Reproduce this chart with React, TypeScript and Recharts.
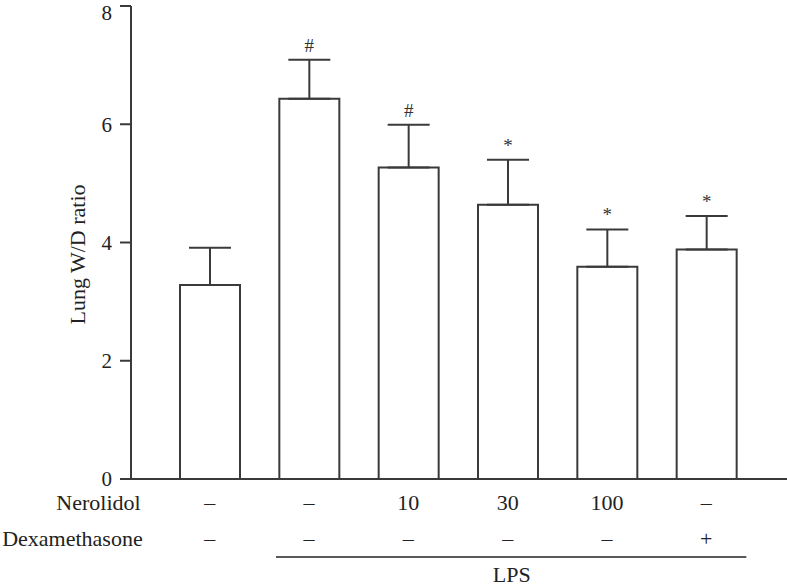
import React from 'react';
import {
  ComposedChart, Bar, XAxis, YAxis, ErrorBar, LabelList,
} from 'recharts';

const groups = ['Control', 'LPS', 'LPS+N10', 'LPS+N30', 'LPS+N100', 'LPS+Dex'];
const means = [3.28, 6.43, 5.27, 4.64, 3.59, 3.88];
const sds = [0.63, 0.66, 0.72, 0.76, 0.63, 0.57];
const marks = ['', '#', '#', '*', '*', '*'];
const nerolidol = ['–', '–', '10', '30', '100', '–'];
const dexamethasone = ['–', '–', '–', '–', '–', '+'];
const yTicks = [0, 2, 4, 6, 8];

const data = groups.map((g, i) => ({
  group: g,
  mean: means[i],
  err: [0, sds[i]],
  sd: sds[i],
  mark: marks[i],
}));

const INK = '#3a3a3a';
const TEXT = '#222';
const FONT = 'Liberation Serif, Times New Roman, serif';
const txt = { fontFamily: FONT, fontSize: 22 };

const W = 787;
const H = 586;
const Y_AXIS_W = 131;
const PAD_L = 29;
const PAD_R = 31;
const BAND = (W - Y_AXIS_W - PAD_L - PAD_R) / groups.length;

const RowTick = ({ x, y, payload }: any) => {
  const i = payload.index;
  return (
    <g>
      {i === 0 && (
        <>
          <text x={x - 69} y={y + 31} textAnchor="end" fill={TEXT} style={txt}>Nerolidol</text>
          <text x={x - 67} y={y + 67} textAnchor="end" fill={TEXT} style={txt}>Dexamethasone</text>
        </>
      )}
      <text x={x} y={y + 31} textAnchor="middle" fill={TEXT} style={txt}>{nerolidol[i]}</text>
      <text x={x} y={y + 67} textAnchor="middle" fill={TEXT} style={txt}>{dexamethasone[i]}</text>
      {i === 1 && (
        <line x1={x - 33} x2={x + 4 * BAND + 40} y1={y + 78} y2={y + 78} stroke={TEXT} strokeWidth={1.5} />
      )}
      {i === 3 && (
        <text x={x + 4} y={y + 103} textAnchor="middle" fill={TEXT} style={txt}>LPS</text>
      )}
    </g>
  );
};

const YLabel = ({ viewBox }: any) => {
  const cx = 77;
  const cy = viewBox.y + viewBox.height / 2 + 12;
  return (
    <text
      x={cx}
      y={cy}
      transform={`rotate(-90, ${cx}, ${cy})`}
      textAnchor="middle"
      dominantBaseline="central"
      fill={TEXT}
      style={txt}
    >
      Lung W/D ratio
    </text>
  );
};

export default function App() {
  return (
    <div style={{ position: 'absolute', left: 0, top: 0, width: W, height: H, background: '#fff' }}>
      <ComposedChart
        width={W}
        height={H}
        data={data}
        margin={{ top: 6, right: 0, left: 0, bottom: 0 }}
      >
        <XAxis
          dataKey="group"
          height={107}
          padding={{ left: PAD_L, right: PAD_R }}
          axisLine={{ stroke: INK, strokeWidth: 2 }}
          tickLine={false}
          tickSize={0}
          tickMargin={0}
          interval={0}
          tick={<RowTick />}
        />
        <YAxis
          width={Y_AXIS_W}
          domain={[0, 8]}
          ticks={yTicks}
          axisLine={{ stroke: INK, strokeWidth: 2 }}
          tickLine={{ stroke: INK, strokeWidth: 2 }}
          tickSize={11}
          tickMargin={8}
          tick={{ fill: TEXT, fontSize: 21, fontFamily: FONT }}
          label={<YLabel />}
        />
        <Bar
          dataKey="mean"
          stackId="s"
          barSize={60}
          fill="#fff"
          stroke={INK}
          strokeWidth={2}
          isAnimationActive={false}
        >
          <ErrorBar dataKey="err" width={21} stroke={INK} strokeWidth={2} direction="y" />
        </Bar>
        <Bar
          dataKey="sd"
          stackId="s"
          barSize={60}
          fill="none"
          stroke="none"
          isAnimationActive={false}
        >
          <LabelList
            dataKey="mark"
            position="top"
            offset={8}
            style={{ fontFamily: FONT, fontSize: 19, fill: '#333' }}
          />
        </Bar>
      </ComposedChart>
    </div>
  );
}
